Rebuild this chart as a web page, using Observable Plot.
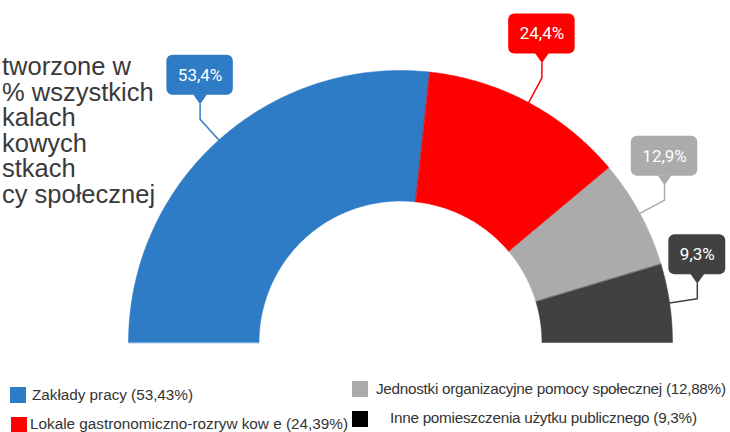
<!DOCTYPE html>
<html>
<head>
<meta charset="utf-8">
<script src="https://cdn.jsdelivr.net/npm/d3@7"></script>
<script src="https://cdn.jsdelivr.net/npm/@observablehq/plot@0.6"></script>
<style>
  html, body { margin: 0; padding: 0; background: #fff; }
  #wrap { position: relative; width: 730px; height: 432px; overflow: hidden; font-family: "Liberation Sans", Arial, sans-serif; }
  #note { position: absolute; left: 2px; top: 54px; font-family: "Liberation Sans", Arial, sans-serif; font-size: 25.5px; line-height: 25.5px; color: #3a3a3a; white-space: pre; }
  #legend { position: relative; width: 730px; height: 62px; }
  .sw { position: absolute; width: 16px; height: 16px; }
  .lt { position: absolute; font-size: 15.3px; line-height: 18px; color: #333; white-space: pre; }
</style>
</head>
<body>
<div id="wrap">
  <div id="chart"></div>
  <div id="legend"></div>
  <div id="note"></div>
</div>
<script>
// ---- data ----
const categories = [
  "Zakłady pracy",
  "Lokale gastronomiczno-rozryw kow e",
  "Jednostki organizacyjne pomocy społecznej",
  "Inne pomieszczenia użytku publicznego"
];
const values = [53.43, 24.39, 12.88, 9.3];
const palette = ["#2e7bc6", "#fe0000", "#ababab", "#414141"];
const noteLines = ["tworzone w", "% wszystkich", "kalach", "kowych", "stkach", "cy społecznej"];

// ---- layout ----
const W = 730, H = 370;
const Rpx = 272;              // outer radius in px
const cx = 400, cy = 342;     // centre in px
const px = 1 / Rpx;           // one pixel in data units
const inner = 0.52;

const total = d3.sum(values);
let acc = 0;
const segs = categories.map((cat, i) => {
  const a0 = acc / total * Math.PI;
  acc += values[i];
  const a1 = acc / total * Math.PI;
  return {cat, i, a0, a1, mid: (a0 + a1) / 2};
});
const pt = (a, rad) => [-Math.cos(a) * rad, Math.sin(a) * rad];

// annular sector polygons
const polys = [];
for (const s of segs) {
  const n = Math.max(8, Math.ceil((s.a1 - s.a0) / 0.01));
  for (let k = 0; k <= n; k++) {
    const a = s.a0 + (s.a1 - s.a0) * k / n;
    const [x, y] = pt(a, 1);
    polys.push({cat: s.cat, x, y});
  }
  for (let k = n; k >= 0; k--) {
    const a = s.a0 + (s.a1 - s.a0) * k / n;
    const [x, y] = pt(a, inner);
    polys.push({cat: s.cat, x, y});
  }
}

// callouts
const fmtShort = v => v.toFixed(1).replace(".", ",") + "%";
const ctx = document.createElement("canvas").getContext("2d");
ctx.font = "17px Roboto";
const leaders = [], tris = [], boxes = [];
for (const s of segs) {
  const [ax, ay] = pt(s.mid, 1);
  const [ex, ey] = pt(s.mid, 1 + 28 * px);
  const ty = ey + 15 * px;
  leaders.push({cat: s.cat, x: ax, y: ay}, {cat: s.cat, x: ex, y: ey}, {cat: s.cat, x: ex, y: ty});
  tris.push({cat: s.cat, x: ex, y: ty}, {cat: s.cat, x: ex - 7 * px, y: ty + 10 * px}, {cat: s.cat, x: ex + 7 * px, y: ty + 10 * px});
  const label = fmtShort(values[s.i]);
  const w = (ctx.measureText(label).width + 22) * px;
  boxes.push({cat: s.cat, label, x1: ex - w / 2, x2: ex + w / 2, y1: ty + 9 * px, y2: ty + 49 * px, xm: ex, ym: ty + 29 * px});
}

const chart = Plot.plot({
  width: W, height: H,
  margin: 0,
  x: {domain: [-cx / Rpx, (W - cx) / Rpx], axis: null},
  y: {domain: [-(H - cy) / Rpx, cy / Rpx], axis: null},
  color: {domain: categories, range: palette},
  style: {background: "transparent"},
  marks: [
    Plot.line(polys, {x: "x", y: "y", z: "cat", fill: "cat", stroke: "cat", strokeWidth: 0.5, curve: "linear-closed"}),
    Plot.line(leaders, {x: "x", y: "y", z: "cat", stroke: "cat", strokeWidth: 1.5}),
    Plot.line(tris, {x: "x", y: "y", z: "cat", fill: "cat", stroke: "none", curve: "linear-closed"}),
    Plot.rect(boxes, {x1: "x1", x2: "x2", y1: "y1", y2: "y2", fill: "cat", rx: 6}),
    Plot.text(boxes, {x: "xm", y: "ym", text: "label", fill: "white", fontSize: 17, fontFamily: "Roboto, 'Liberation Sans', sans-serif"})
  ]
});
document.getElementById("chart").appendChild(chart);

// note text (cut off on the left in the original)
document.getElementById("note").textContent = noteLines.join("\n");

// legend
const fmtLong = v => String(v).replace(".", ",") + "%";
const slots = [
  {sx: 10, sy: 17, tx: 32, ty: 16, w: 161},
  {sx: 11, sy: 47, tx: 30, ty: 45, w: 318},
  {sx: 352, sy: 11, tx: 376, ty: 10, w: 350},
  {sx: 352, sy: 41, tx: 390, ty: 39, w: 307}
];
const leg = document.getElementById("legend");
categories.forEach((c, i) => {
  const s = slots[i];
  const sw = document.createElement("div");
  sw.className = "sw";
  sw.style.left = s.sx + "px"; sw.style.top = s.sy + "px";
  sw.style.background = i === 3 ? "#000" : palette[i];
  leg.appendChild(sw);
  const t = document.createElement("div");
  t.className = "lt";
  t.style.left = s.tx + "px"; t.style.top = s.ty + "px";
  t.textContent = `${c} (${fmtLong(values[i])})`;
  leg.appendChild(t);
  // fit to the width seen in the reference
  const actual = t.getBoundingClientRect().width;
  const n = t.textContent.length;
  if (n > 1) t.style.letterSpacing = ((s.w - actual) / (n - 1)).toFixed(3) + "px";
});
</script>
</body>
</html>
